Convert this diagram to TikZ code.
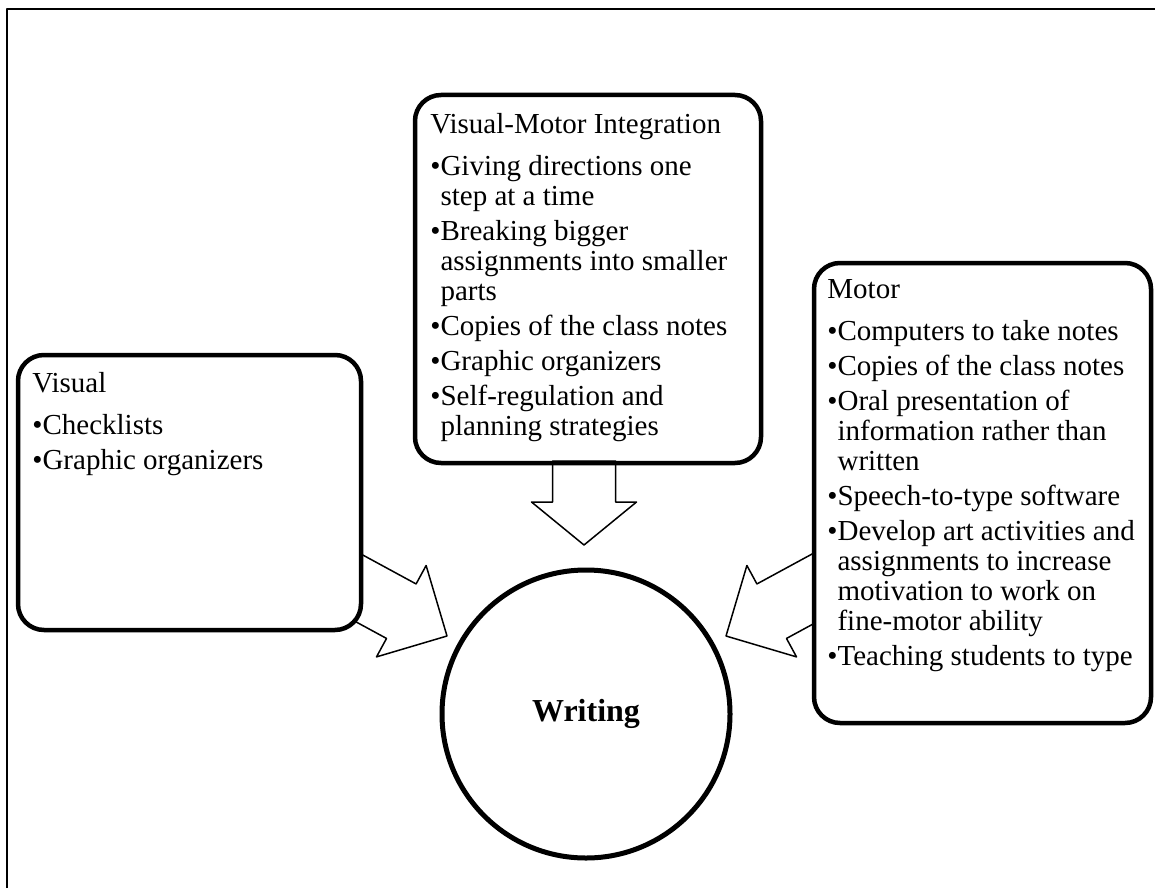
\documentclass[tikz,border=0pt]{standalone}
\usepackage{fontspec}
\setmainfont{Liberation Serif}
\newcommand{\bp}{\textbullet}
\newcommand{\bi}{\phantom{\textbullet}}
\newcommand{\topline}{\rule{0pt}{10pt}}
\begin{document}
\begin{tikzpicture}[x=0.5pt,y=-0.5pt,line join=round,
    box/.style={draw,line width=2.25pt,rounded corners=13pt,fill=white,inner sep=0pt,outer sep=0pt},
    txt/.style={anchor=north west,inner sep=0pt,align=left,font=\fontsize{14.5}{15}\selectfont},
    blockarrow/.style={line width=0.75pt}]
    \useasboundingbox (0,0) rectangle (1155,888);
    % frame
    \draw[line width=1pt] (7,888) -- (7,9) -- (1155,9);
    % tips of the block arrows
    \coordinate (tipL) at (447,636);
    \coordinate (tipR) at (726,636);
    \coordinate (tipD) at (584,545);
    % side arrows, behind the boxes
    \begin{scope}[shift={(tipL)},rotate=-28.5]
        \draw[blockarrow,fill=white] (0,0) -- (-52,-52) -- (-52,-31) -- (-140,-31)
            -- (-140,31) -- (-52,31) -- (-52,52) -- cycle;
    \end{scope}
    \begin{scope}[shift={(tipR)},rotate=208.5]
        \draw[blockarrow,fill=white] (0,0) -- (-52,-52) -- (-52,-31) -- (-140,-31)
            -- (-140,31) -- (-52,31) -- (-52,52) -- cycle;
    \end{scope}
    % boxes
    \node[box,minimum width=171.5pt,minimum height=137.5pt] (visual) at (189.5,492.5) {};
    \node[box,minimum width=173pt,minimum height=184pt] (vmi) at (588,279) {};
    \node[box,minimum width=168.5pt,minimum height=230pt] (motor) at (982.5,493) {};
    % down arrow, outline on top
    \begin{scope}[shift={(tipD)},rotate=-90]
        \draw[blockarrow] (0,0) -- (-43,-52.5) -- (-43,-31.5) -- (-84,-31.5)
            -- (-84,31.5) -- (-43,31.5) -- (-43,52.5) -- cycle;
    \end{scope}
    % centre
    \node[circle,draw,line width=2.5pt,fill=white,minimum size=144pt,inner sep=0pt,
        font=\fontsize{16}{19}\selectfont\bfseries] (writing) at (586,714) {Writing};
    % texts
    \node[txt] (visualtext) at (32,372) {\topline Visual\\[6pt]
        \bp Checklists\\[2.5pt]
        \bp Graphic organizers};
    \node[txt] (vmitext) at (430,113) {\topline Visual-Motor Integration\\[6pt]
        \bp Giving directions one\\
        \bi step at a time\\[2.5pt]
        \bp Breaking bigger\\
        \bi assignments into smaller\\
        \bi parts\\[2.5pt]
        \bp Copies of the class notes\\[2.5pt]
        \bp Graphic organizers\\[2.5pt]
        \bp Self-regulation and\\
        \bi planning strategies};
    \node[txt] (motortext) at (827,278) {\topline Motor\\[6pt]
        \bp Computers to take notes\\[2.5pt]
        \bp Copies of the class notes\\[2.5pt]
        \bp Oral presentation of\\
        \bi information rather than\\
        \bi written\\[2.5pt]
        \bp Speech-to-type software\\[2.5pt]
        \bp Develop art activities and\\
        \bi assignments to increase\\
        \bi motivation to work on\\
        \bi fine-motor ability\\[2.5pt]
        \bp Teaching students to type};
\end{tikzpicture}
\end{document}
